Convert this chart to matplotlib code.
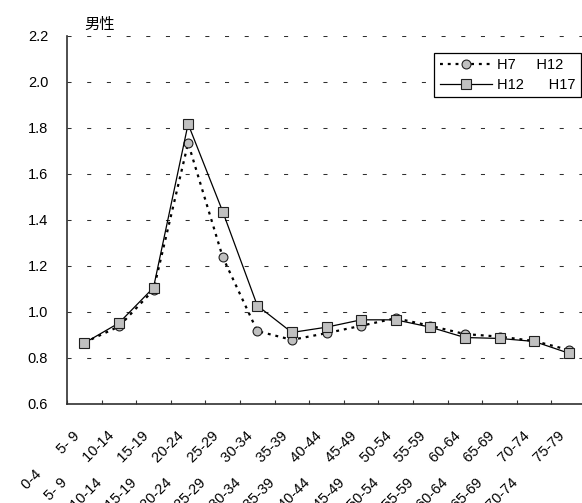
import numpy as np
import matplotlib.pyplot as plt
from matplotlib.transforms import ScaledTranslation

plt.rcParams['font.family'] = ['Liberation Sans', 'Noto Sans CJK JP', 'DejaVu Sans']
plt.rcParams['font.size'] = 10.5

# age groups (cohort moves from lower to upper group)
age_from = ["0-4", "5- 9", "10-14", "15-19", "20-24", "25-29", "30-34", "35-39",
            "40-44", "45-49", "50-54", "55-59", "60-64", "65-69", "70-74"]
age_to = ["5- 9", "10-14", "15-19", "20-24", "25-29", "30-34", "35-39", "40-44",
          "45-49", "50-54", "55-59", "60-64", "65-69", "70-74", "75-79"]

h7_h12 = [0.865, 0.935, 1.094, 1.733, 1.237, 0.915, 0.877, 0.906, 0.938, 0.971,
          0.938, 0.902, 0.891, 0.872, 0.833]
h12_h17 = [0.863, 0.950, 1.104, 1.816, 1.435, 1.026, 0.909, 0.932, 0.964, 0.964,
           0.932, 0.887, 0.883, 0.870, 0.819]

label_a = "H7     H12"
label_b = "H12      H17"

fig = plt.figure(figsize=(5.82, 5.03), dpi=100)
ax = fig.add_axes([67/582, 1 - 403.5/503, 519/582, 367.8/503])

x = np.arange(len(age_from)) + 0.5
ax.plot(x, h7_h12, color="k", lw=1.6, linestyle=(0, (1.3, 2.2)),
        marker="o", ms=6.4, mfc="#c0c0c0", mec="#202020", mew=0.8, label=label_a)
ax.plot(x, h12_h17, color="k", lw=0.9, linestyle="-",
        marker="s", ms=7, mfc="#c0c0c0", mec="#202020", mew=0.8, label=label_b)

ax.set_xlim(0, len(age_from))
ax.set_ylim(0.6, 2.2)
ax.set_yticks(np.arange(0.6, 2.21, 0.2))
ax.set_yticklabels(["%.1f" % v for v in np.arange(0.6, 2.21, 0.2)])
ax.yaxis.grid(True, color="#303030", lw=0.75, linestyle=(0, (3.9, 15)))

ax.set_xticks(np.arange(len(age_from) + 1))
ax.set_xticklabels([])
ax.set_xticks(x, minor=True)
ax.set_xticklabels([a + "       " + b for a, b in zip(age_from, age_to)], minor=True)
ax.tick_params(axis="x", which="major", direction="in", length=3, width=0.8, color="#303030")
ax.tick_params(axis="x", which="minor", length=0, pad=23.8)
ax.tick_params(axis="y", length=0, pad=13.5)
offset = ScaledTranslation(-3.7/100, 0, fig.dpi_scale_trans)
for lab in ax.get_xticklabels(minor=True):
    lab.set_rotation(45)
    lab.set_ha("right")
    lab.set_va("baseline")
    lab.set_rotation_mode("anchor")
    lab.set_transform(lab.get_transform() + offset)

for s in ["top", "right"]:
    ax.spines[s].set_visible(False)
for s in ["left", "bottom"]:
    ax.spines[s].set_color("#303030")
    ax.spines[s].set_linewidth(1.2)

leg = ax.legend(loc="upper right", bbox_to_anchor=(0.99, 0.952), borderaxespad=0,
                handlelength=3.6, handletextpad=0.35, fancybox=False, framealpha=1,
                edgecolor="k", borderpad=0.35, labelspacing=0.4)
leg.get_frame().set_linewidth(0.9)

fig.text(100/582, 1 - 24/503, "男性", ha="center", va="center",
         family=["Noto Sans CJK JP", "DejaVu Sans"], fontsize=11)

fig.savefig("out.png", dpi=100)
